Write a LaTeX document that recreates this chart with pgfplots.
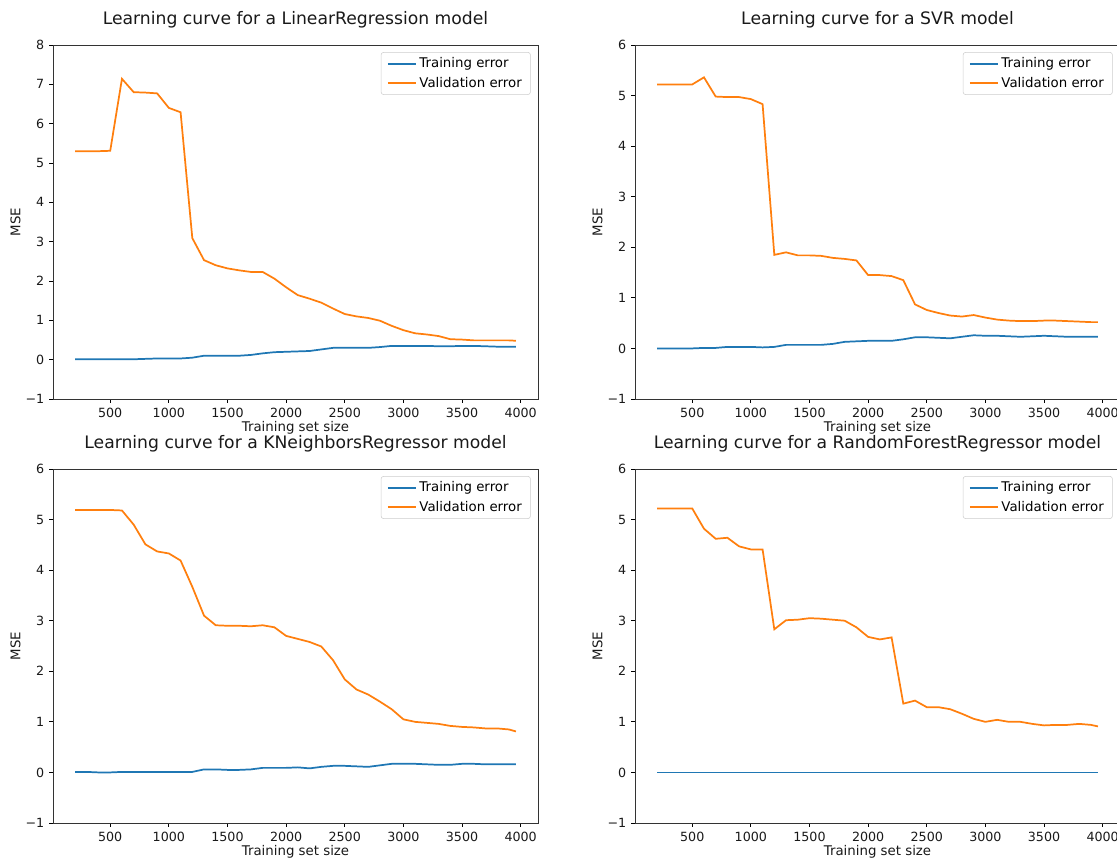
\documentclass[border=0pt]{standalone}
\usepackage{pgfplots}
\usepackage{pgfplotstable}
\pgfplotsset{compat=1.18}
\usepackage{fontspec}
\setmainfont{DejaVu Sans}
\definecolor{mblue}{HTML}{1F77B4}
\definecolor{morange}{HTML}{FF7F0E}
\definecolor{legframe}{HTML}{CCCCCC}

\pgfplotstableread{
x train val
200 0.01 5.30
300 0.01 5.30
400 0.01 5.30
500 0.01 5.31
600 0.01 7.14
700 0.01 6.80
800 0.02 6.79
900 0.03 6.77
1000 0.03 6.40
1100 0.03 6.29
1200 0.05 3.09
1300 0.10 2.53
1400 0.10 2.40
1500 0.10 2.32
1600 0.10 2.27
1700 0.12 2.23
1800 0.16 2.23
1900 0.19 2.06
2000 0.20 1.84
2100 0.21 1.64
2200 0.22 1.55
2300 0.26 1.45
2400 0.30 1.30
2500 0.30 1.16
2600 0.30 1.10
2700 0.30 1.06
2800 0.32 0.99
2900 0.35 0.86
3000 0.35 0.75
3100 0.35 0.67
3200 0.35 0.64
3300 0.34 0.60
3400 0.34 0.52
3500 0.35 0.51
3600 0.35 0.49
3700 0.34 0.49
3800 0.33 0.49
3900 0.33 0.49
3960 0.33 0.48
}\linreg

\pgfplotstableread{
x train val
200 0.00 5.22
300 0.00 5.22
400 0.00 5.22
500 0.00 5.22
600 0.01 5.36
700 0.01 4.98
800 0.03 4.97
900 0.03 4.97
1000 0.03 4.93
1100 0.02 4.83
1200 0.03 1.85
1300 0.07 1.90
1400 0.07 1.84
1500 0.07 1.84
1600 0.07 1.83
1700 0.09 1.79
1800 0.13 1.77
1900 0.14 1.74
2000 0.15 1.45
2100 0.15 1.45
2200 0.15 1.43
2300 0.18 1.35
2400 0.22 0.87
2500 0.22 0.76
2600 0.21 0.70
2700 0.20 0.65
2800 0.23 0.63
2900 0.26 0.66
3000 0.25 0.61
3100 0.25 0.57
3200 0.24 0.55
3300 0.23 0.54
3400 0.24 0.54
3500 0.25 0.55
3600 0.24 0.55
3700 0.23 0.54
3800 0.23 0.53
3900 0.23 0.52
3960 0.23 0.52
}\svr

\pgfplotstableread{
x train val
200 0.01 5.19
300 0.01 5.19
400 0.00 5.19
500 0.00 5.19
600 0.01 5.18
700 0.01 4.90
800 0.01 4.51
900 0.01 4.37
1000 0.01 4.33
1100 0.01 4.19
1200 0.01 3.67
1300 0.06 3.10
1400 0.06 2.91
1500 0.05 2.90
1600 0.05 2.90
1700 0.06 2.89
1800 0.09 2.91
1900 0.09 2.87
2000 0.09 2.70
2100 0.10 2.64
2200 0.08 2.58
2300 0.11 2.49
2400 0.13 2.22
2500 0.13 1.84
2600 0.12 1.64
2700 0.11 1.54
2800 0.14 1.40
2900 0.17 1.25
3000 0.17 1.05
3100 0.17 1.00
3200 0.16 0.98
3300 0.15 0.96
3400 0.15 0.92
3500 0.17 0.90
3600 0.17 0.89
3700 0.16 0.87
3800 0.16 0.87
3900 0.16 0.85
3960 0.16 0.81
}\knn

\pgfplotstableread{
x train val
200 0 5.22
300 0 5.22
400 0 5.22
500 0 5.22
600 0 4.82
700 0 4.62
800 0 4.64
900 0 4.47
1000 0 4.41
1100 0 4.41
1200 0 2.83
1300 0 3.01
1400 0 3.02
1500 0 3.05
1600 0 3.04
1700 0 3.02
1800 0 3.00
1900 0 2.87
2000 0 2.68
2100 0 2.63
2200 0 2.67
2300 0 1.36
2400 0 1.42
2500 0 1.29
2600 0 1.29
2700 0 1.25
2800 0 1.16
2900 0 1.06
3000 0 1.00
3100 0 1.04
3200 0 1.00
3300 0 1.00
3400 0 0.96
3500 0 0.93
3600 0 0.94
3700 0 0.94
3800 0 0.96
3900 0 0.94
3960 0 0.91
}\rf

\pgfplotsset{
  lc/.style={
    scale only axis, width=363.75pt, height=265.5pt,
    anchor=south west,
    xmin=12, xmax=4148,
    xtick={500,1000,...,4000},
    tick align=outside, xtick pos=bottom, ytick pos=left,
    major tick length=3pt,
    every tick/.style={black, line width=0.6pt},
    axis line style={line width=0.7pt, black!80},
    /pgf/number format/assume math mode=true,
    /pgf/number format/1000 sep={},
    tick label style={font=\fontsize{9.5}{11}\selectfont, text=black!90},
    xlabel={Training set size},
    ylabel={MSE},
    label style={font=\fontsize{10}{12}\selectfont, text=black!90},
    xlabel style={yshift=4pt},
    ylabel style={yshift=-3pt},
    title style={font=\fontsize{12.9}{15}\selectfont, text=black!90, yshift=3pt},
    legend cell align=left,
    legend style={at={(0.985,0.98)}, anchor=north east, draw=legframe,
      rounded corners=2pt, fill=white, font=\fontsize{10}{12}\selectfont,
      inner xsep=4.5pt, inner ysep=2pt, row sep=1.5pt},
    legend image code/.code={\draw[##1] (0pt,0pt) -- (21pt,0pt);},
    every axis plot/.append style={line width=1.3pt},
  }
}

\begin{document}
\begin{tikzpicture}
\useasboundingbox (0,0) rectangle (837.75pt,646.5pt);

\begin{axis}[lc, at={(39.75pt,347.25pt)},
  title={Learning curve for a LinearRegression model},
  ymin=-1, ymax=8, ytick={-1,0,...,8},
  yticklabels={−1,0,1,2,3,4,5,6,7,8}]
\addplot[mblue] table[x=x,y=train] {\linreg};
\addplot[morange] table[x=x,y=val] {\linreg};
\legend{Training error, Validation error}
\end{axis}

\begin{axis}[lc, at={(476.25pt,347.25pt)},
  title={Learning curve for a SVR model},
  ymin=-1, ymax=6, ytick={-1,0,...,6},
  yticklabels={−1,0,1,2,3,4,5,6}]
\addplot[mblue] table[x=x,y=train] {\svr};
\addplot[morange] table[x=x,y=val] {\svr};
\legend{Training error, Validation error}
\end{axis}

\begin{axis}[lc, at={(39.75pt,29.25pt)},
  title={Learning curve for a KNeighborsRegressor model},
  ymin=-1, ymax=6, ytick={-1,0,...,6},
  yticklabels={−1,0,1,2,3,4,5,6}]
\addplot[mblue] table[x=x,y=train] {\knn};
\addplot[morange] table[x=x,y=val] {\knn};
\legend{Training error, Validation error}
\end{axis}

\begin{axis}[lc, at={(476.25pt,29.25pt)},
  title={Learning curve for a RandomForestRegressor model},
  ymin=-1, ymax=6, ytick={-1,0,...,6},
  yticklabels={−1,0,1,2,3,4,5,6}]
\addplot[mblue] table[x=x,y=train] {\rf};
\addplot[morange] table[x=x,y=val] {\rf};
\legend{Training error, Validation error}
\end{axis}
\end{tikzpicture}
\end{document}
